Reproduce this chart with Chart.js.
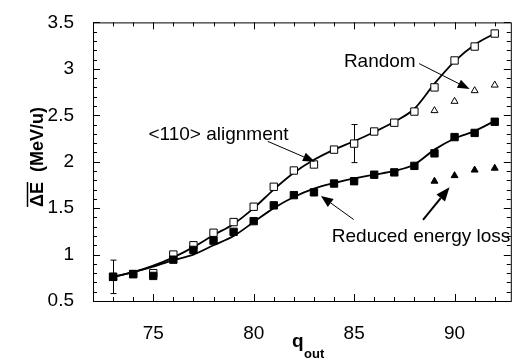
<!DOCTYPE html>
<html lang="en">
<head>
<meta charset="UTF-8">
<title>Mean energy loss vs outgoing charge state</title>
<script src="https://cdn.jsdelivr.net/npm/chart.js"></script>
<style>
  body { margin: 0; background: #fff; }
  #wrap { width: 517px; height: 360px; }
</style>
</head>
<body>
<div id="wrap"><canvas id="chart" width="517" height="360"></canvas></div>
<script>
// outgoing charge states
const qOut = [73, 74, 75, 76, 77, 78, 79, 80, 81, 82, 83, 84, 85, 86, 87, 88, 89, 90, 91, 92];
// open squares (upper series)
const openSquares = [0.76, 0.79, 0.80, 1.00, 1.10, 1.235, 1.35, 1.515, 1.73, 1.905, 1.97, 2.13, 2.195, 2.325, 2.42, 2.54, 2.80, 3.09, 3.24, 3.38];
// filled squares (lower series)
const filledSquares = [0.76, 0.79, 0.77, 0.945, 1.05, 1.15, 1.245, 1.36, 1.53, 1.64, 1.67, 1.765, 1.79, 1.86, 1.885, 1.955, 2.09, 2.265, 2.31, 2.43];
// smooth curves through each series
const upperCurve = [0.76, 0.81, 0.88, 0.97, 1.08, 1.21, 1.33, 1.50, 1.70, 1.88, 2.02, 2.13, 2.22, 2.32, 2.43, 2.57, 2.84, 3.08, 3.26, 3.38];
const lowerCurve = [0.76, 0.81, 0.87, 0.94, 1.00, 1.10, 1.20, 1.35, 1.50, 1.62, 1.71, 1.77, 1.82, 1.86, 1.90, 1.97, 2.13, 2.25, 2.33, 2.44];
// reduced energy loss points
const qReduced = [89, 90, 91, 92];
const openTriangles = [2.55, 2.65, 2.765, 2.825];
const filledTriangles = [1.79, 1.85, 1.91, 1.93];
// error bars
const errQ = [73, 85];
const errLow = [0.58, 1.99];
const errHigh = [0.94, 2.40];
// tick labels
const xTickLabels = [75, 80, 85, 90];
const yTickLabels = [0.5, 1, 1.5, 2, 2.5, 3, 3.5];

const FONT = "'Liberation Sans', Arial, Helvetica, sans-serif";

function pts(xs, ys) {
    return xs.map((x, i) => ({ x: x, y: ys[i] }));
}

// box with inward ticks on all four sides
const frame = {
    id: 'frame',
    afterDatasetsDraw(chart) {
        const ctx = chart.ctx;
        const a = chart.chartArea;
        const xs = chart.scales.x, ys = chart.scales.y;
        ctx.save();
        ctx.strokeStyle = '#000';
        ctx.lineWidth = 1;
        ctx.strokeRect(a.left + 0.5, a.top + 0.5, a.right - a.left, a.bottom - a.top);
        ctx.beginPath();
        for (let i = 5; i <= 35; i++) {
            const y = Math.round(ys.getPixelForValue(i / 10)) + 0.5;
            const len = i % 5 === 0 ? 7 : 4;
            ctx.moveTo(a.left, y); ctx.lineTo(a.left + len, y);
            ctx.moveTo(a.right, y); ctx.lineTo(a.right - len, y);
        }
        for (let q = 73; q <= 92; q++) {
            const x = Math.round(xs.getPixelForValue(q)) + 0.5;
            const len = q % 5 === 0 ? 7 : 4;
            ctx.moveTo(x, a.bottom); ctx.lineTo(x, a.bottom - len);
            ctx.moveTo(x, a.top); ctx.lineTo(x, a.top + len);
        }
        ctx.stroke();
        ctx.restore();
    }
};

const errorBars = {
    id: 'errorBars',
    beforeDatasetsDraw(chart) {
        const ctx = chart.ctx;
        const xs = chart.scales.x, ys = chart.scales.y;
        ctx.save();
        ctx.strokeStyle = '#000';
        ctx.lineWidth = 1;
        ctx.beginPath();
        errQ.forEach((q, i) => {
            const x = Math.round(xs.getPixelForValue(q)) + 0.5;
            const y1 = ys.getPixelForValue(errLow[i]);
            const y2 = ys.getPixelForValue(errHigh[i]);
            ctx.moveTo(x, y1); ctx.lineTo(x, y2);
            ctx.moveTo(x - 3, y1); ctx.lineTo(x + 3, y1);
            ctx.moveTo(x - 3, y2); ctx.lineTo(x + 3, y2);
        });
        ctx.stroke();
        ctx.restore();
    }
};

function arrow(ctx, x1, y1, x2, y2, lw, headLen, headW) {
    const ang = Math.atan2(y2 - y1, x2 - x1);
    const bx = x2 - headLen * Math.cos(ang), by = y2 - headLen * Math.sin(ang);
    ctx.lineWidth = lw;
    ctx.beginPath();
    ctx.moveTo(x1, y1); ctx.lineTo(bx, by);
    ctx.stroke();
    ctx.beginPath();
    ctx.moveTo(x2, y2);
    ctx.lineTo(bx + headW * Math.sin(ang), by - headW * Math.cos(ang));
    ctx.lineTo(bx - headW * Math.sin(ang), by + headW * Math.cos(ang));
    ctx.closePath();
    ctx.fill();
}

// labels, arrows and axis titles
const notes = {
    id: 'notes',
    afterDraw(chart) {
        const ctx = chart.ctx;
        const xs = chart.scales.x, ys = chart.scales.y;
        const X = v => xs.getPixelForValue(v), Y = v => ys.getPixelForValue(v);
        ctx.save();
        ctx.fillStyle = '#000';
        ctx.strokeStyle = '#000';
        ctx.font = '19px ' + FONT;
        ctx.textBaseline = 'alphabetic';
        ctx.textAlign = 'left';
        ctx.fillText('<110> alignment', X(74.76), Y(2.233));
        ctx.fillText('Random', X(84.49), Y(3.025));
        ctx.fillText('Reduced energy loss', X(83.89), Y(1.135));

        arrow(ctx, X(80.70), Y(2.219), X(83.05), Y(2.0), 1, 12, 4.5);
        arrow(ctx, X(88.24), Y(3.056), X(90.75), Y(2.782), 1, 12, 4.5);
        arrow(ctx, X(84.98), Y(1.377), X(83.35), Y(1.631), 1, 12, 5);
        arrow(ctx, X(88.43), Y(1.374), X(89.75), Y(1.726), 2, 14, 5.5);

        // y title with overline over the delta E
        ctx.save();
        ctx.translate(43, 157);
        ctx.rotate(-Math.PI / 2);
        ctx.font = 'bold 18px ' + FONT;
        const full = '\u0394E  (MeV/u)';
        const w = ctx.measureText(full).width;
        const wDE = ctx.measureText('\u0394E').width;
        ctx.fillText(full, -w / 2, 0);
        ctx.lineWidth = 1.5;
        ctx.beginPath();
        ctx.moveTo(-w / 2, -15.5);
        ctx.lineTo(-w / 2 + wDE, -15.5);
        ctx.stroke();
        ctx.restore();

        // x title with subscript
        ctx.font = 'bold 19px ' + FONT;
        ctx.fillText('q', 292, 347);
        ctx.font = 'bold 13px ' + FONT;
        ctx.fillText('out', 304, 358);
        ctx.restore();
    }
};

new Chart(document.getElementById('chart'), {
    type: 'scatter',
    data: {
        datasets: [
            {
                data: pts(qOut, filledSquares),
                pointStyle: 'rect', pointRadius: 5.2,
                backgroundColor: '#000', borderColor: '#000', borderWidth: 1
            },
            {
                data: pts(qOut, openSquares),
                pointStyle: 'rect', pointRadius: 5.2,
                backgroundColor: '#fff', borderColor: '#000', borderWidth: 1
            },
            {
                data: pts(qReduced, openTriangles),
                pointStyle: 'triangle', pointRadius: 4,
                backgroundColor: '#fff', borderColor: '#000', borderWidth: 1
            },
            {
                data: pts(qReduced, filledTriangles),
                pointStyle: 'triangle', pointRadius: 4,
                backgroundColor: '#000', borderColor: '#000', borderWidth: 1
            },
            {
                data: pts(qOut, upperCurve),
                showLine: true, pointRadius: 0,
                borderColor: '#000', borderWidth: 1.8,
                cubicInterpolationMode: 'monotone'
            },
            {
                data: pts(qOut, lowerCurve),
                showLine: true, pointRadius: 0,
                borderColor: '#000', borderWidth: 1.8,
                cubicInterpolationMode: 'monotone'
            }
        ]
    },
    options: {
        responsive: false,
        animation: false,
        layout: { padding: { left: 0, top: 17, right: 4, bottom: 0 } },
        plugins: {
            legend: { display: false },
            tooltip: { enabled: false }
        },
        scales: {
            x: {
                type: 'linear',
                min: 72, max: 92.8,
                grid: { display: false },
                border: { display: false },
                afterBuildTicks: s => { s.ticks = xTickLabels.map(v => ({ value: v })); },
                afterFit: s => { s.height = 59; },
                ticks: {
                    padding: 13,
                    color: '#000',
                    font: { family: FONT, size: 19 },
                    maxRotation: 0,
                    callback: v => String(v)
                }
            },
            y: {
                min: 0.5, max: 3.5,
                grid: { display: false },
                border: { display: false },
                afterBuildTicks: s => { s.ticks = yTickLabels.map(v => ({ value: v })); },
                afterFit: s => { s.width = 93; },
                ticks: {
                    padding: 11,
                    color: '#000',
                    font: { family: FONT, size: 19 },
                    callback: v => String(v)
                }
            }
        }
    },
    plugins: [frame, errorBars, notes]
});
</script>
</body>
</html>
